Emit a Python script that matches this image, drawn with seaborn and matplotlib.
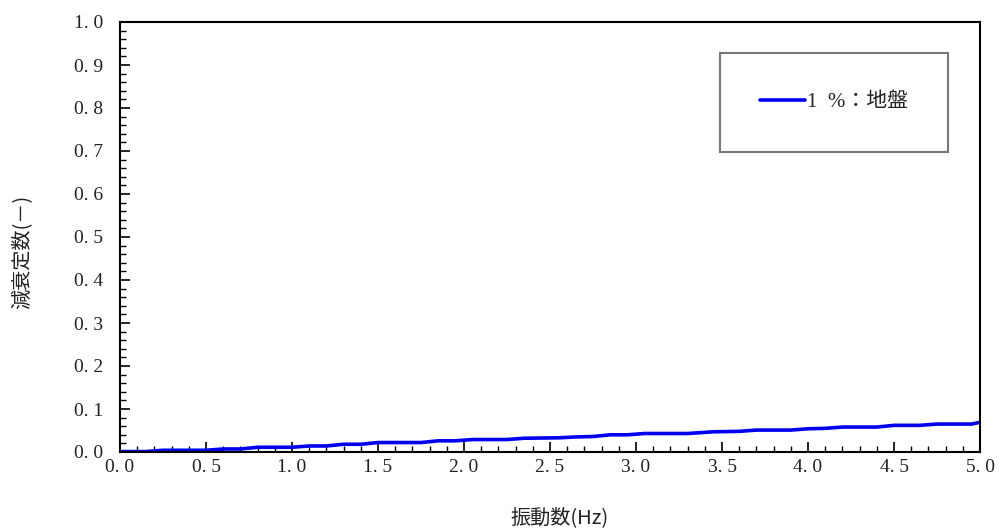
import matplotlib
matplotlib.use("Agg")
import matplotlib.pyplot as plt
import seaborn as sns
import pandas as pd
from matplotlib.ticker import MultipleLocator, FuncFormatter

# Data
freq = [0.0, 0.15, 0.25, 0.5, 0.6, 0.7, 0.8, 1.0, 1.1, 1.2, 1.3, 1.4, 1.5, 1.75,
        1.85, 1.95, 2.05, 2.25, 2.35, 2.55, 2.65, 2.75, 2.85, 2.95, 3.05, 3.3,
        3.45, 3.6, 3.7, 3.9, 4.0, 4.1, 4.2, 4.4, 4.5, 4.65, 4.75, 4.95, 5.0]
damping = [0.001, 0.001, 0.004, 0.004, 0.007, 0.007, 0.011, 0.011, 0.014, 0.014,
           0.018, 0.018, 0.022, 0.022, 0.026, 0.026, 0.029, 0.029, 0.032, 0.033,
           0.035, 0.036, 0.040, 0.040, 0.043, 0.043, 0.047, 0.048, 0.051, 0.051,
           0.054, 0.055, 0.058, 0.058, 0.062, 0.062, 0.065, 0.065, 0.069]
series_label = "1  %：地盤"
x_label = "振動数(Hz)"
y_label = "減衰定数(－)"

sns.set_theme(style="white")
plt.rcParams['font.family'] = ['Liberation Serif', 'Noto Sans CJK JP', 'DejaVu Sans']

df = pd.DataFrame({"freq": freq, "damping": damping, "series": series_label})

fig = plt.figure(figsize=(10.04, 5.30), dpi=100)
ax = fig.add_axes([120/1004, 1-452/530, 860/1004, 430/530])

sns.lineplot(data=df, x="freq", y="damping", hue="series", palette=["#0000ee"],
             linewidth=2.6, ax=ax)

ax.set_xlim(0, 5.0)
ax.set_ylim(0, 1.0)
ax.xaxis.set_major_locator(MultipleLocator(0.5))
ax.xaxis.set_minor_locator(MultipleLocator(0.1))
ax.yaxis.set_major_locator(MultipleLocator(0.1))
ax.yaxis.set_minor_locator(MultipleLocator(0.02))
fmt = FuncFormatter(lambda v, p: f"{v:.1f}".replace(".", ". "))
ax.xaxis.set_major_formatter(fmt)
ax.yaxis.set_major_formatter(fmt)

ax.tick_params(axis="both", which="major", direction="in", length=7, width=1.2,
               labelsize=14, color="black", labelcolor="#222222",
               bottom=True, left=True, top=False, right=False)
ax.tick_params(axis="both", which="minor", direction="in", length=4, width=1.0,
               color="black", bottom=True, left=True, top=False, right=False)
ax.tick_params(axis="x", which="major", pad=5)
ax.tick_params(axis="y", which="major", pad=12)

for sp in ax.spines.values():
    sp.set_color("black")
    sp.set_linewidth(1.5)

ax.set_xlabel(x_label, fontsize=14.5, family=['Noto Sans CJK JP'], color="#222222",
              va="center", ha="center")
ax.set_ylabel(y_label, fontsize=14.5, family=['Noto Sans CJK JP'], color="#222222",
              va="center", ha="center")
ax.xaxis.set_label_coords((560 - 120) / 860, (452 - 518) / 430)
ax.yaxis.set_label_coords((23 - 120) / 860, (452 - 252) / 430)

leg = ax.legend(loc="upper left", bbox_to_anchor=(600/860, 1-31/430), frameon=True,
                fancybox=False, borderpad=1.9, handlelength=2.2, handletextpad=0.1,
                prop={'family': ['Liberation Serif', 'Noto Sans CJK JP'], 'size': 15},
                borderaxespad=0)
leg.get_frame().set_edgecolor("#555555")
leg.get_frame().set_linewidth(1.5)
for t in leg.get_texts():
    t.set_color("#222222")

fig.savefig("out.png", dpi=100)
